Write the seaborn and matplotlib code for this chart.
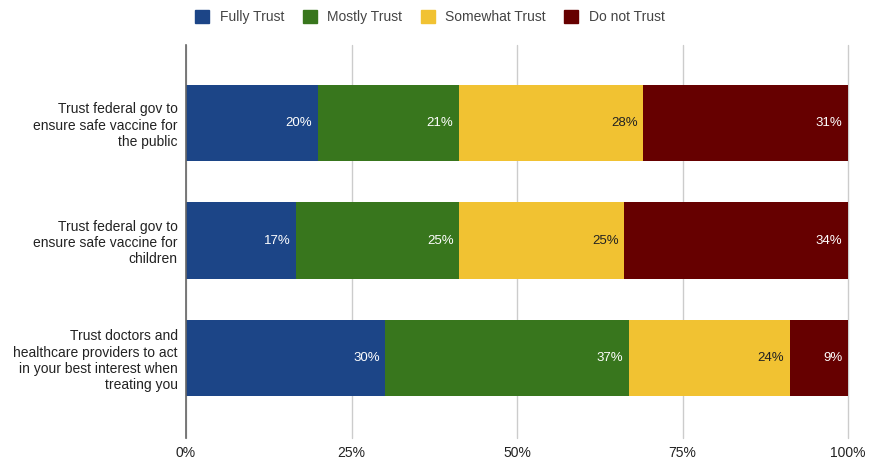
import matplotlib.pyplot as plt
import matplotlib.patches as mpatches
import pandas as pd
import numpy as np
import seaborn as sns

sns.set_theme(style="white")
plt.rcParams['font.family'] = ['Liberation Sans', 'DejaVu Sans']

# Данні з графіка (у відсотках)
questions = [
    "Trust federal gov to\nensure safe vaccine for\nthe public",
    "Trust federal gov to\nensure safe vaccine for\nchildren",
    "Trust doctors and\nhealthcare providers to act\nin your best interest when\ntreating you",
]
levels = ["Fully Trust", "Mostly Trust", "Somewhat Trust", "Do not Trust"]
fully = [19.9, 16.6, 30.1]
mostly = [21.3, 24.7, 36.8]
somewhat = [27.9, 24.9, 24.3]
not_trust = [30.9, 33.8, 8.8]

colors = ["#1c4587", "#38761d", "#f1c232", "#660000"]
text_colors = ["white", "white", "#222222", "white"]

data = pd.DataFrame({"Question": questions, "Fully Trust": fully, "Mostly Trust": mostly,
                     "Somewhat Trust": somewhat, "Do not Trust": not_trust})
vals = data[levels]
share = vals.div(vals.sum(axis=1), axis=0) * 100
cum = share.cumsum(axis=1)

fig = plt.figure(figsize=(8.72, 4.62), dpi=100)
ax = fig.add_axes([0.2133, 0.052, 0.7592, 0.851])

# Малюємо накопичені стовпці від найбільшого до найменшого
for lvl, col in reversed(list(zip(levels, colors))):
    sns.barplot(x=cum[lvl], y=data["Question"], color=col, width=0.647,
                orient="h", ax=ax, saturation=1, linewidth=0)

# Підписи значень
for i, q in enumerate(questions):
    for lvl, tc in zip(levels, text_colors):
        ax.annotate(f"{vals[lvl].iloc[i]:.0f}%", xy=(cum[lvl].iloc[i], i),
                    xytext=(-4, 0), textcoords="offset points",
                    ha="right", va="center", color=tc, fontsize=9.5)

ax.set_xlim(0, 100)
ax.set_ylim(2.68, -0.665)
ax.set_xticks([0, 25, 50, 75, 100])
ax.set_xticklabels(["0%", "25%", "50%", "75%", "100%"], fontsize=10, color="#222222")
ax.tick_params(axis="y", labelsize=10, labelcolor="#222222", length=0, pad=6)
ax.tick_params(axis="x", length=0, pad=6)
ax.set_xlabel("")
ax.set_ylabel("")
for lbl in ax.get_yticklabels():
    lbl.set_horizontalalignment("right")
    lbl.set_multialignment("right")

ax.grid(axis="x", color="#cccccc", linewidth=1)
for gl in ax.get_xgridlines():
    gl.set_clip_on(False)
ax.set_axisbelow(True)
for s in ["top", "right", "bottom"]:
    ax.spines[s].set_visible(False)
ax.spines["left"].set_color("#666666")
ax.spines["left"].set_linewidth(1.2)
ax.spines["left"].set_zorder(5)

handles = [mpatches.Patch(color=c, label=l) for l, c in zip(levels, colors)]
fig.legend(handles=handles, loc="center", bbox_to_anchor=(0.493, 0.963), ncol=4,
           frameon=False, fontsize=10, handlelength=1.0, handleheight=1.0,
           handletextpad=0.75, columnspacing=1.35, labelcolor="#444444")

plt.savefig("out.png", dpi=100)
